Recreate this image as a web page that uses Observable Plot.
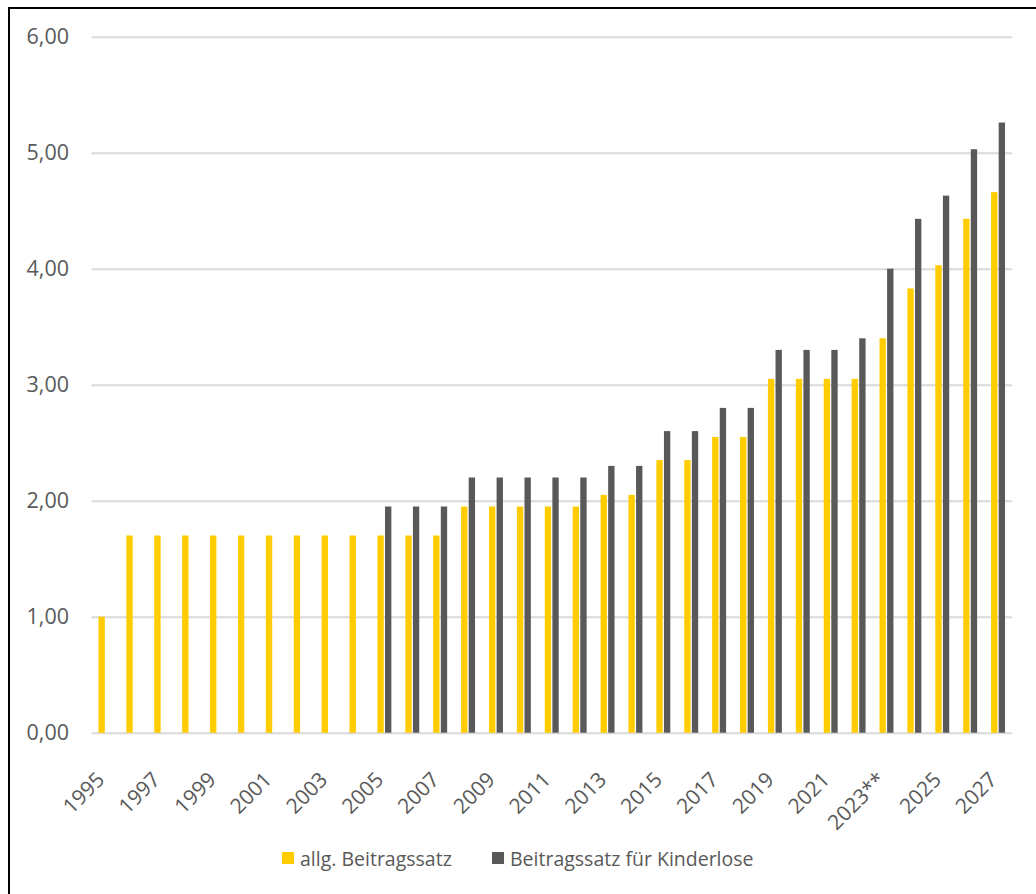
<!DOCTYPE html>
<html><head><meta charset="utf-8">
<script src="https://cdn.jsdelivr.net/npm/d3@7"></script>
<script src="https://cdn.jsdelivr.net/npm/@observablehq/plot@0.6"></script>
<style>
html,body{margin:0;padding:0;background:#fff;}
body{width:1036px;height:894px;position:relative;overflow:hidden;font-family:"Open Sans",sans-serif;}
#frame{position:absolute;left:8px;top:7px;width:1100px;height:1000px;border-left:2px solid #000;border-top:2px solid #000;box-sizing:border-box;pointer-events:none;}
#chart{position:absolute;left:0;top:0;}
#legend{position:absolute;top:844px;left:0;width:1036px;height:28px;font-size:19.5px;color:#595959;}
.item{position:absolute;top:0;display:flex;align-items:center;height:28px;white-space:nowrap;}
.sw{width:12px;height:12px;margin-right:6px;}
</style>
</head><body>
<div id="chart"></div>
<div id="legend"></div>
<div id="frame"></div>
<script>
const categories = ["1995","1996","1997","1998","1999","2000","2001","2002","2003","2004","2005","2006","2007","2008","2009","2010","2011","2012","2013","2014","2015","2016","2017","2018","2019","2020","2021","2022","2023**","2024","2025","2026","2027"];
const allgBeitragssatz = [1.00,1.70,1.70,1.70,1.70,1.70,1.70,1.70,1.70,1.70,1.70,1.70,1.70,1.95,1.95,1.95,1.95,1.95,2.05,2.05,2.35,2.35,2.55,2.55,3.05,3.05,3.05,3.05,3.40,3.83,4.03,4.43,4.66];
const beitragssatzKinderlose = [null,null,null,null,null,null,null,null,null,null,1.95,1.95,1.95,2.20,2.20,2.20,2.20,2.20,2.30,2.30,2.60,2.60,2.80,2.80,3.30,3.30,3.30,3.40,4.00,4.43,4.63,5.03,5.26];
const seriesNames = ["allg. Beitragssatz","Beitragssatz für Kinderlose"];
const seriesColors = ["#ffcc00","#595959"];
const xTickLabels = ["1995","1997","1999","2001","2003","2005","2007","2009","2011","2013","2015","2017","2019","2021","2023**","2025","2027"];
const yTicks = [0,1,2,3,4,5,6];

const rowsA = categories.map((c,i)=>({cat:c, value:allgBeitragssatz[i]}));
const rowsK = categories.map((c,i)=>({cat:c, value:beitragssatzKinderlose[i]})).filter(d=>d.value!=null);

const chart = Plot.plot({
  width:1036, height:840,
  marginLeft:91.5, marginRight:24, marginTop:36.7, marginBottom:107.3,
  style:{fontFamily:"'Open Sans',sans-serif", color:"#595959", background:"transparent"},
  x:{type:"band", domain:categories, paddingInner:0.5, paddingOuter:0.25, round:false},
  y:{domain:[0,6]},
  marks:[
    Plot.gridY(yTicks,{stroke:"#d9d9d9", strokeOpacity:1, strokeWidth:2}),
    Plot.barY(rowsA,{x:"cat", y:"value", fill:seriesColors[0], insetRight:7.6}),
    Plot.barY(rowsK,{x:"cat", y:"value", fill:seriesColors[1], insetLeft:7.6}),
    Plot.axisY(yTicks,{tickSize:0, tickPadding:23, fontSize:21.5, fill:"#595959", label:null,
      tickFormat:d=>d.toFixed(2).replace(".",",")}),
    Plot.axisX(xTickLabels,{tickSize:0, tickPadding:38, dx:-5, dy:5, tickRotate:-45, fontSize:21, fill:"#595959", label:null})
  ]
});
document.getElementById("chart").appendChild(chart);

const legend = document.getElementById("legend");
const lefts = [282, 492];
seriesNames.forEach((n,i)=>{
  const it = document.createElement("div");
  it.className="item"; it.style.left = lefts[i]+"px";
  const sw = document.createElement("span"); sw.className="sw"; sw.style.background=seriesColors[i];
  const tx = document.createElement("span"); tx.textContent=n;
  it.appendChild(sw); it.appendChild(tx); legend.appendChild(it);
});
</script>
</body></html>
